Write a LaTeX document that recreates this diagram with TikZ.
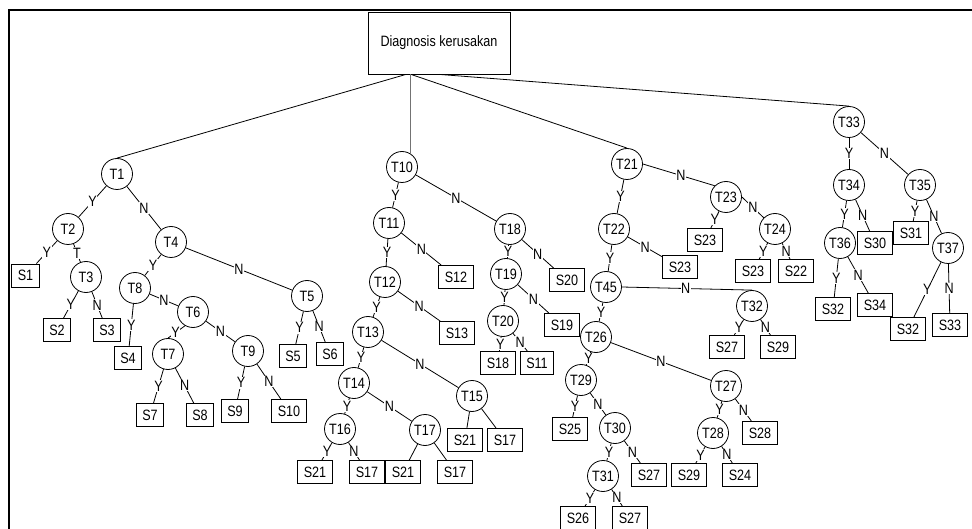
\documentclass[tikz,border=0pt]{standalone}
\usepackage{fontspec}
\setmainfont{Liberation Sans}[FakeStretch=0.84]
\begin{document}
\begin{tikzpicture}[x=1pt,y=-1pt,font=\fontsize{15}{17}\selectfont,
  tq/.style={circle,draw,line width=0.8pt,minimum size=31pt,inner sep=0pt},
  sb/.style={rectangle,draw,line width=0.8pt,minimum height=23pt,inner xsep=6pt,inner ysep=0pt},
  rootbox/.style={rectangle,draw,line width=0.8pt,minimum width=142pt,minimum height=62pt},
  e/.style={line width=0.8pt},
  lbl/.style={fill=white,inner sep=0.6pt},
  frame/.style={line width=2pt}]
\useasboundingbox (0,0) rectangle (972,529);
\coordinate (fl) at (8.5,529);
\coordinate (fc) at (8.5,10);
\coordinate (fr) at (972,10);
\draw[frame] (fl) -- (fc) -- (fr);
% root
\node[rootbox] (root) at (439,43) {Diagnosis kerusakan};
% ---- T1 subtree
\node[tq] (T1) at (117,174) {T1};
\node[tq] (T2) at (68,229) {T2};
\node[tq] (T4) at (171,242) {T4};
\node[sb] (S1) at (25.5,275.5) {S1};
\node[tq] (T3) at (86,277) {T3};
\node[sb] (S2) at (57,330) {S2};
\node[sb] (S3) at (107,330) {S3};
\node[tq] (T8) at (135,288) {T8};
\node[tq] (T6) at (193,312) {T6};
\node[tq] (T5) at (307,296) {T5};
\node[sb] (S4) at (128,358) {S4};
\node[tq] (T7) at (168,354) {T7};
\node[tq] (T9) at (248,351) {T9};
\node[sb] (S5) at (293,356) {S5};
\node[sb] (S6) at (330,354) {S6};
\node[sb] (S7) at (150,415) {S7};
\node[sb] (S8) at (200,415) {S8};
\node[sb] (S9) at (235,411) {S9};
\node[sb] (S10) at (289,411) {S10};
% ---- T10 subtree
\node[tq] (T10) at (402,167) {T10};
\node[tq] (T11) at (389,223) {T11};
\node[tq] (T18) at (510,229) {T18};
\node[sb] (S12) at (456,277) {S12};
\node[tq] (T12) at (385,282) {T12};
\node[sb] (S13) at (457,333) {S13};
\node[tq] (T13) at (368,332) {T13};
\node[tq] (T14) at (354,383) {T14};
\node[tq] (T15) at (472,396) {T15};
\node[tq] (T16) at (340,429) {T16};
\node[tq] (T17) at (425,430) {T17};
\node[sb] (S21a) at (315,472) {S21};
\node[sb] (S17a) at (367,472) {S17};
\node[sb] (S21b) at (403,472) {S21};
\node[sb] (S17b) at (455,472) {S17};
\node[sb] (S21c) at (465,440) {S21};
\node[sb] (S17c) at (505,440) {S17};
\node[tq] (T19) at (506,274) {T19};
\node[sb] (S20) at (567,280) {S20};
\node[tq] (T20) at (503,321) {T20};
\node[sb] (S19) at (562,325) {S19};
\node[sb] (S18) at (498,363) {S18};
\node[sb] (S11) at (537,363) {S11};
% ---- T21 subtree
\node[tq] (T21) at (627,164) {T21};
\node[tq] (T23) at (726,197) {T23};
\node[tq] (T22) at (614,229) {T22};
\node[sb] (S23a) at (680,267) {S23};
\node[sb] (S23b) at (705,240) {S23};
\node[tq] (T24) at (775,229) {T24};
\node[sb] (S23c) at (753,271) {S23};
\node[sb] (S22) at (796,271) {S22};
\node[tq] (T45) at (606,287) {T45};
\node[tq] (T32) at (752,306) {T32};
\node[sb] (S27a) at (727,347) {S27};
\node[sb] (S29a) at (778,347) {S29};
\node[tq] (T26) at (596,337) {T26};
\node[tq] (T29) at (581,380) {T29};
\node[tq] (T27) at (726,386) {T27};
\node[sb] (S25) at (570,429) {S25};
\node[tq] (T30) at (615,428) {T30};
\node[sb] (S27b) at (649,475) {S27};
\node[tq] (T31) at (603,476) {T31};
\node[sb] (S26) at (578,518) {S26};
\node[sb] (S27c) at (630,518) {S27};
\node[tq] (T28) at (713,433) {T28};
\node[sb] (S28) at (760,433) {S28};
\node[sb] (S29b) at (689,475) {S29};
\node[sb] (S24) at (740,475) {S24};
% ---- T33 subtree
\node[tq] (T33) at (849,122) {T33};
\node[tq] (T34) at (849,185) {T34};
\node[tq] (T35) at (920,185) {T35};
\node[tq] (T36) at (840,243) {T36};
\node[sb] (S30) at (875,243) {S30};
\node[sb] (S31) at (911,233) {S31};
\node[tq] (T37) at (948,248) {T37};
\node[sb] (S32a) at (833,309) {S32};
\node[sb] (S34) at (875,305) {S34};
\node[sb] (S32b) at (908,329) {S32};
\node[sb] (S33) at (950,325) {S33};
% ---- root edges
\draw[e] ([xshift=-33pt]root.south) -- (T1.north);
\draw[e,draw=black!55] (T10.56 |- root.south) -- (T10.56);
\draw[e] ([xshift=-28pt]root.south) -- (T21.north);
\draw[e] (root.south) -- (T33.north);
% ---- T1 edges
\draw[e] (T1) -- node[lbl]{Y} (T2);
\draw[e] (T1) -- node[lbl]{N} (T4);
\draw[e] (T2) -- node[lbl]{Y} (S1);
\draw[e] (T2) -- node[lbl]{T} (T3);
\draw[e] (T3) -- node[lbl]{Y} (S2);
\draw[e] (T3) -- node[lbl]{N} (S3);
\draw[e] (T4) -- node[lbl]{Y} (T8);
\draw[e] (T4) -- node[lbl]{N} (T5);
\draw[e] (T8) -- node[lbl]{N} (T6);
\draw[e] (T8) -- node[lbl]{Y} (S4);
\draw[e] (T6.240) -- node[lbl,pos=0.55]{Y} (T7.north);
\draw[e] (T6) -- node[lbl]{N} (T9);
\draw[e] (T5) -- node[lbl]{Y} (S5);
\draw[e] (T5) -- node[lbl]{N} (S6);
\draw[e] (T7) -- node[lbl]{Y} (S7);
\draw[e] (T7) -- node[lbl]{N} (S8);
\draw[e] (T9) -- node[lbl]{Y} (S9);
\draw[e] (T9) -- node[lbl]{N} (S10);
% ---- T10 edges
\draw[e] (T10) -- node[lbl]{Y} (T11);
\draw[e] (T10) -- node[lbl]{N} (T18);
\draw[e] (T11) -- node[lbl]{Y} (T12);
\draw[e] (T11) -- node[lbl]{N} (S12);
\draw[e] (T12) -- node[lbl]{Y} (T13);
\draw[e] (T12) -- node[lbl]{N} (S13);
\draw[e] (T13) -- node[lbl]{Y} (T14);
\draw[e] (T13) -- node[lbl]{N} (T15);
\draw[e] (T14) -- node[lbl]{Y} (T16);
\draw[e] (T14) -- node[lbl]{N} (T17);
\draw[e] (T16) -- node[lbl]{Y} (S21a);
\draw[e] (T16) -- node[lbl]{N} (S17a);
\draw[e] (T17) -- (S21b);
\draw[e] (T17) -- (S17b);
\draw[e] (T15) -- (S21c);
\draw[e] (T15) -- (S17c);
\draw[e] (T18) -- node[lbl]{Y} (T19);
\draw[e] (T18) -- node[lbl]{N} (S20);
\draw[e] (T19) -- node[lbl]{Y} (T20);
\draw[e] (T19) -- node[lbl]{N} (S19);
\draw[e] (T20) -- node[lbl]{Y} (S18);
\draw[e] (T20) -- node[lbl]{N} (S11);
% ---- T21 edges
\draw[e] (T21) -- node[lbl]{Y} (T22);
\draw[e] (T21.east) -- node[lbl,pos=0.53]{N} (T23.north west);
\draw[e] (T23) -- node[lbl]{Y} (S23b);
\draw[e] (T23.east) -- node[lbl]{N} (T24.north west);
\draw[e] (T24) -- node[lbl]{Y} (S23c);
\draw[e] (T24) -- node[lbl]{N} (S22);
\draw[e] (T22) -- node[lbl]{N} (S23a);
\draw[e] (T22) -- node[lbl]{Y} (T45);
\draw[e] (T45.east) -- node[lbl,pos=0.49]{N} (T32.north);
\draw[e] (T45) -- node[lbl]{Y} (T26);
\draw[e] (T32) -- node[lbl]{Y} (S27a);
\draw[e] (T32) -- node[lbl]{N} (S29a);
\draw[e] (T26) -- node[lbl]{Y} (T29);
\draw[e] (T26) -- node[lbl]{N} (T27);
\draw[e] (T29) -- node[lbl]{Y} (S25);
\draw[e] (T29) -- node[lbl]{N} (T30);
\draw[e] (T30) -- node[lbl]{Y} (T31);
\draw[e] (T30) -- node[lbl]{N} (S27b);
\draw[e] (T31) -- node[lbl]{Y} (S26);
\draw[e] (T31) -- node[lbl]{N} (S27c);
\draw[e] (T27) -- node[lbl]{Y} (T28);
\draw[e] (T27) -- node[lbl]{N} (S28);
\draw[e] (T28) -- node[lbl]{Y} (S29b);
\draw[e] (T28) -- node[lbl]{N} (S24);
% ---- T33 edges
\draw[e] (T33) -- node[lbl]{Y} (T34);
\draw[e] (T33) -- node[lbl]{N} (T35);
\draw[e] (T34) -- node[lbl]{Y} (T36);
\draw[e] (T34) -- node[lbl]{N} (S30);
\draw[e] (T35) -- node[lbl]{Y} (S31);
\draw[e] (T35) -- node[lbl]{N} (T37);
\draw[e] (T36) -- node[lbl]{Y} (S32a);
\draw[e] (T36) -- node[lbl]{N} (S34);
\draw[e] (T37) -- node[lbl]{Y} (S32b);
\draw[e] (T37) -- node[lbl]{N} (S33);
\end{tikzpicture}
\end{document}
